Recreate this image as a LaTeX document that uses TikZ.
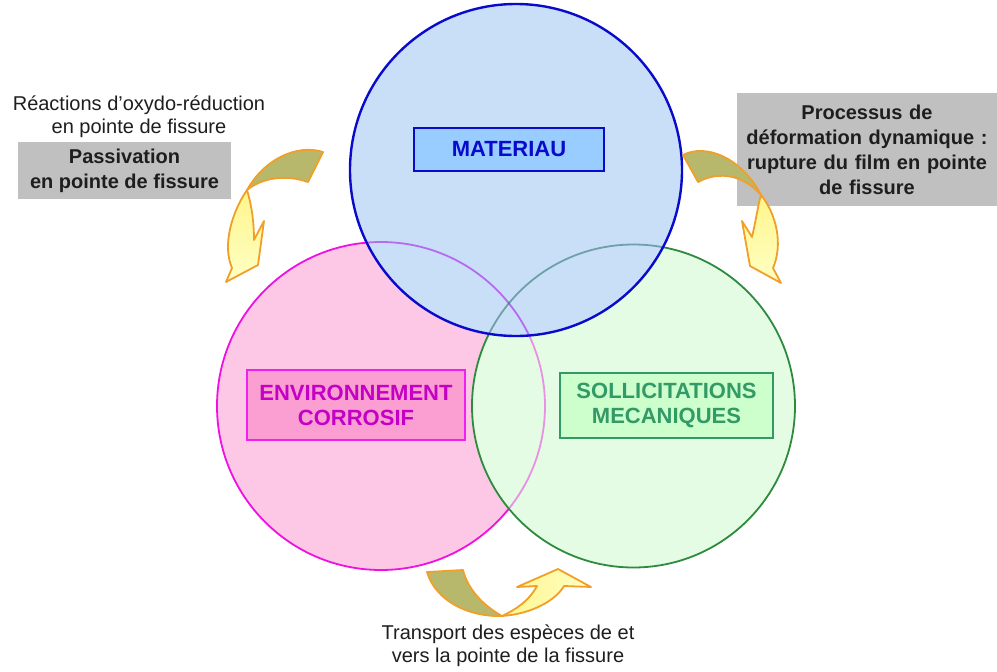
\documentclass[tikz,border=0pt]{standalone}
\usepackage{fontspec}
\setmainfont{Liberation Sans}
\definecolor{bluefill}{HTML}{C9DFF8}
\definecolor{blueline}{HTML}{0A0ACC}
\definecolor{pinkfill}{HTML}{FDC8E6}
\definecolor{pinkline}{HTML}{F010E0}
\definecolor{greenfill}{HTML}{E4FBE4}
\definecolor{greenline}{HTML}{2E8B3E}
\definecolor{matfill}{HTML}{99CCFF}
\definecolor{envfill}{HTML}{FB9ED2}
\definecolor{envtext}{HTML}{C400C4}
\definecolor{envline}{HTML}{F020F0}
\definecolor{solfill}{HTML}{CCFFCC}
\definecolor{soltext}{HTML}{339966}
\definecolor{greybox}{HTML}{C0C0C0}
\definecolor{olive}{HTML}{B8B86C}
\definecolor{yell}{HTML}{FFF58C}
\definecolor{yelllight}{HTML}{FFFFC4}
\definecolor{orangeline}{HTML}{F0A028}
\definecolor{txt}{HTML}{1E1E1E}
\tikzset{
  labelbox/.style={draw, line width=2pt, align=center, font=\bfseries\fontsize{22}{25}\selectfont, inner sep=0pt},
  greylabel/.style={fill=greybox, align=center, font=\bfseries\fontsize{20}{25}\selectfont, text=txt, inner sep=0pt},
  plaintext/.style={align=center, font=\fontsize{20}{23}\selectfont, text=txt, inner sep=0pt},
  backpart/.style={fill=olive, draw=orangeline, line width=1.8pt, line join=round},
  frontpart/.style={draw=orangeline, line width=1.8pt, line join=round}
}
\begin{document}
\begin{tikzpicture}[x=1pt,y=-1pt]
\useasboundingbox (0,0) rectangle (997,672);
\fill[white] (0,0) rectangle (997,672);
% circles
\coordinate (cb) at (516,170);
\coordinate (cp) at (381,406);
\coordinate (cg) at (633.5,406);
\fill[pinkfill] (cp) circle (164);
\draw[pinkline, line width=1.8pt] (cp) circle (164);
\fill[greenfill] (cg) circle (161.5);
\begin{scope}
  \clip (cg) circle (161.5);
  \draw[pinkline, line width=1.8pt, opacity=0.45] (cp) circle (164);
\end{scope}
\draw[greenline, line width=1.8pt] (cg) circle (161.5);
\fill[bluefill] (cb) circle (166);
\begin{scope}
  \clip (cb) circle (166);
  \draw[pinkline!70!blue, line width=1.8pt, opacity=0.55] (cp) circle (164);
  \draw[greenline!80!blue, line width=1.8pt, opacity=0.55] (cg) circle (161.5);
\end{scope}
\draw[blueline, line width=2.4pt] (cb) circle (166);
% labels
\node[labelbox, fill=matfill, draw=blueline, text=blueline, minimum width=190, minimum height=43] (mat) at (509,149.5) {MATERIAU};
\node[labelbox, fill=envfill, draw=envline, text=envtext, minimum width=218, minimum height=70] (env) at (356,405) {ENVIRONNEMENT\\CORROSIF};
\node[labelbox, fill=solfill, draw=soltext, text=soltext, minimum width=213, minimum height=65] (sol) at (666.5,405.5) {SOLLICITATIONS\\MECANIQUES};
% grey boxes and texts
\node[greylabel, minimum width=213, minimum height=57] (pass) at (124.5,170.5) {Passivation\\en pointe de fissure};
\node[plaintext] (redox) at (139,117) {Réactions d’oxydo-réduction\\en pointe de fissure};
\node[greylabel, minimum width=260, minimum height=113, text width=260] (proc) at (867,149.5) {Processus de\\déformation dynamique :\\rupture du film en pointe\\de fissure};
\node[plaintext] (transp) at (508,646) {Transport des espèces de et\\vers la pointe de la fissure};
% left arrow
\path[backpart] (323,152) .. controls (298,144) and (265,158) .. (247,190)
   .. controls (262,178) and (285,174) .. (308,182) -- cycle;
\path[frontpart, top color=yell, bottom color=yelllight] (247,190) .. controls (232,212) and (222,245) .. (232,268)
   -- (226,282) -- (258,265) -- (264,221) -- (254,240)
   .. controls (254,220) and (251,203) .. (247,190) -- cycle;
% right arrow
\path[backpart] (683,155) .. controls (706,143) and (742,158) .. (761,195)
   .. controls (745,176) and (720,170) .. (698,182) -- cycle;
\path[frontpart, top color=yell, bottom color=yelllight] (761,195) .. controls (777,215) and (783,245) .. (773,268)
   -- (781,283) -- (750,266) -- (742,221) -- (752,237)
   .. controls (756,220) and (758,205) .. (761,195) -- cycle;
% bottom arrow
\path[backpart] (427,572) .. controls (436,602) and (470,617) .. (502,616)
   .. controls (484,606) and (468,590) .. (463,570) -- cycle;
\path[frontpart, left color=yell, right color=yelllight] (502,616) .. controls (532,614) and (556,600) .. (564,586)
   -- (591,587) -- (558,569) -- (517,587) -- (537,586)
   .. controls (529,601) and (515,610) .. (502,616) -- cycle;
\end{tikzpicture}
\end{document}
